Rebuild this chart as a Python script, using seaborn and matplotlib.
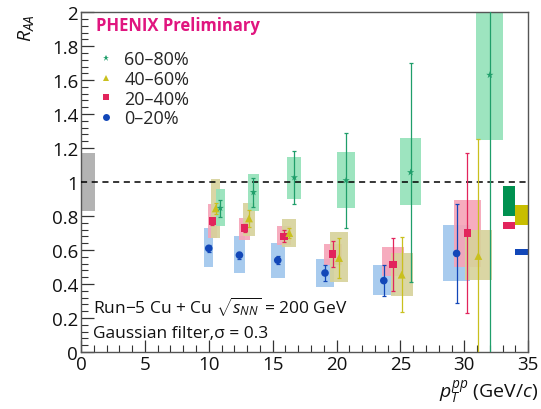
import numpy as np
import pandas as pd
import matplotlib
matplotlib.use("Agg")
import matplotlib.pyplot as plt
import seaborn as sns
from matplotlib.lines import Line2D
from matplotlib.ticker import MultipleLocator

# ---------------- data ----------------
labels = ["0\u201320%", "20\u201340%", "40\u201360%", "60\u201380%"]

x_0_20 = [10.0, 12.4, 15.4, 19.1, 23.7, 29.4]
y_0_20 = [0.61, 0.57, 0.54, 0.465, 0.42, 0.58]
e_0_20 = [0.02, 0.02, 0.025, 0.045, 0.09, 0.29]
slo_0_20 = [0.50, 0.465, 0.435, 0.38, 0.335, 0.42]
shi_0_20 = [0.73, 0.68, 0.64, 0.55, 0.51, 0.75]

x_20_40 = [10.28, 12.8, 15.9, 19.7, 24.4, 30.25]
y_20_40 = [0.77, 0.73, 0.68, 0.576, 0.516, 0.70]
e_20_40 = [0.02, 0.025, 0.035, 0.075, 0.155, 0.47]
slo_20_40 = [0.67, 0.66, 0.63, 0.51, 0.45, 0.50]
shi_20_40 = [0.87, 0.79, 0.74, 0.635, 0.615, 0.895]

x_40_60 = [10.55, 13.15, 16.3, 20.2, 25.1, 31.1]
y_40_60 = [0.845, 0.786, 0.70, 0.553, 0.455, 0.565]
e_40_60 = [0.03, 0.05, 0.03, 0.12, 0.22, 0.69]
slo_40_60 = [0.67, 0.685, 0.62, 0.41, 0.33, 0.425]
shi_40_60 = [1.02, 0.875, 0.78, 0.704, 0.58, 0.72]

x_60_80 = [10.9, 13.5, 16.7, 20.75, 25.8, 32.0]
y_60_80 = [0.847, 0.94, 1.027, 1.01, 1.057, 1.63]
e_60_80 = [0.05, 0.085, 0.155, 0.28, 0.645, 1.7]
slo_60_80 = [0.74, 0.83, 0.90, 0.85, 0.865, 1.25]
shi_60_80 = [0.96, 1.047, 1.15, 1.176, 1.257, 2.05]

box_width = [0.7, 0.92, 1.1, 1.4, 1.7, 2.1]

# global normalisation uncertainties (lo, hi) per centrality
norm_lo = [0.57, 0.724, 0.75, 0.80]
norm_hi = [0.606, 0.767, 0.865, 0.975]
norm_x = [34.5, 33.5, 34.5, 33.5]
pp_norm = (0.83, 1.17)

# ---------------- style ----------------
sns.set_theme(style="white")
plt.rcParams["font.family"] = ["Open Sans", "DejaVu Sans"]
plt.rcParams["mathtext.fontset"] = "custom"
plt.rcParams["mathtext.rm"] = "Open Sans"
plt.rcParams["mathtext.it"] = "Open Sans:italic"

mcol = ["#1247b8", "#e2245c", "#c9c01e", "#1f9e6a"]
bcol = ["#9fc6ed", "#f6a3b7", "#d6d29a", "#92e2b8"]
ncol = ["#1247b8", "#e2245c", "#c8be00", "#009150"]
markers = ["o", "s", "^", "*"]
msizes = [30, 30, 32, 30]

xs = [x_0_20, x_20_40, x_40_60, x_60_80]
ys = [y_0_20, y_20_40, y_40_60, y_60_80]
es = [e_0_20, e_20_40, e_40_60, e_60_80]
slos = [slo_0_20, slo_20_40, slo_40_60, slo_60_80]
shis = [shi_0_20, shi_20_40, shi_40_60, shi_60_80]

df = pd.concat([
    pd.DataFrame({"pt": xs[i], "raa": ys[i], "err": es[i], "cent": labels[i]})
    for i in range(4)
], ignore_index=True)

fig = plt.figure(figsize=(5.41, 4.10), dpi=100)
ax = fig.add_axes([0.1497, 0.139, 0.8266, 0.829])

# pp normalisation box
ax.bar(0.55, pp_norm[1] - pp_norm[0], bottom=pp_norm[0], width=1.1,
       color="#b3b3b3", linewidth=0, zorder=1)

# systematic boxes
for i in range(4):
    ax.bar(xs[i], np.array(shis[i]) - np.array(slos[i]), bottom=slos[i],
           width=box_width, color=bcol[i], alpha=0.9, linewidth=0, zorder=1 + i * 0.1)

# global normalisation boxes
for i in range(4):
    ax.bar(norm_x[i], norm_hi[i] - norm_lo[i], bottom=norm_lo[i], width=1.0,
           color=ncol[i], linewidth=0, zorder=2)

ax.axhline(1.0, color="black", linestyle=(0, (4, 3)), linewidth=1.1, zorder=3)

# statistical errors
for i in range(4):
    ax.errorbar(xs[i], ys[i], yerr=es[i], fmt="none", ecolor=mcol[i],
                elinewidth=0.9, capsize=1.5, capthick=0.9, zorder=4)

sns.scatterplot(data=df, x="pt", y="raa", hue="cent", style="cent",
                hue_order=labels, style_order=labels,
                palette=mcol, markers=markers, size="cent",
                sizes=dict(zip(labels, msizes)), linewidth=0,
                legend=False, ax=ax, zorder=5)

ax.set_xlim(0, 35)
ax.set_ylim(0, 2)
ax.set_xlabel("")
ax.set_ylabel("")
ax.xaxis.set_major_locator(MultipleLocator(5))
ax.xaxis.set_minor_locator(MultipleLocator(1))
ax.yaxis.set_major_locator(MultipleLocator(0.2))
ax.yaxis.set_minor_locator(MultipleLocator(0.04))
ax.set_xticks([0, 5, 10, 15, 20, 25, 30, 35])
ax.set_xticklabels(["0", "5", "10", "15", "20", "25", "30", "35"])
ax.set_yticks([0, 0.2, 0.4, 0.6, 0.8, 1, 1.2, 1.4, 1.6, 1.8, 2])
ax.set_yticklabels(["0", "0.2", "0.4", "0.6", "0.8", "1", "1.2", "1.4", "1.6", "1.8", "2"])
ax.tick_params(axis="both", which="major", direction="in", length=9, width=0.9,
               labelsize=13.5, colors="#333333", labelcolor="#111111", pad=2)
ax.tick_params(axis="both", which="minor", direction="in", length=5, width=0.8,
               colors="#333333")
ax.tick_params(axis="x", which="both", bottom=True, top=False)
ax.tick_params(axis="y", which="both", left=True, right=False)
for s in ax.spines.values():
    s.set_color("#555555")
    s.set_linewidth(1.0)

# legend
handles = [Line2D([0], [0], marker=markers[i], color="none", markerfacecolor=mcol[i],
                  markeredgewidth=0, markersize=5) for i in [3, 2, 1, 0]]
ax.legend(handles, [labels[i] for i in [3, 2, 1, 0]], loc="upper left",
          bbox_to_anchor=(0.02, 0.915), frameon=False, fontsize=13,
          handlelength=0.8, handletextpad=0.6, labelspacing=0.1, borderpad=0)

fig.text(0.177, 0.925, "PHENIX Preliminary", color="#e0157f", fontsize=12,
         fontweight="bold")
ax.text(0.95, 0.225, "Run\u22125 Cu + Cu $\\sqrt{s_{NN}}$ = 200 GeV", fontsize=12.5,
        color="#111111")
ax.text(0.95, 0.09, "Gaussian filter,\u03c3 = 0.3", fontsize=12.5, color="#111111")

fig.text(0.995, 0.03, "$p_T^{pp}$ (GeV/$c$)", fontsize=14, ha="right", color="#111111")
fig.text(0.03, 0.965, "$R_{AA}$", fontsize=14, rotation=90, va="top", color="#111111")

fig.savefig("out.png", dpi=100)
